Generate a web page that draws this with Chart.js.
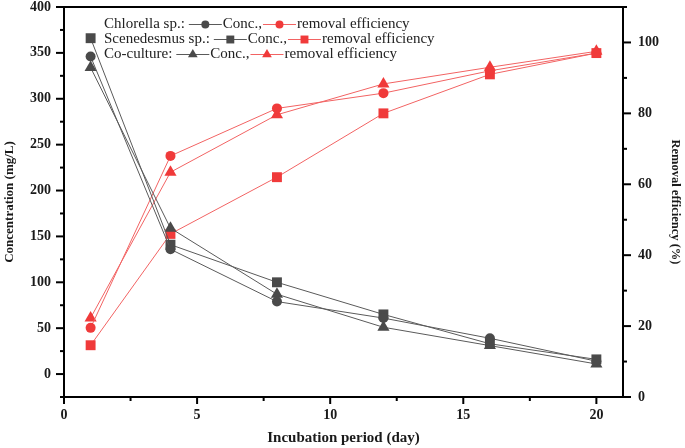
<!DOCTYPE html>
<html>
<head>
<meta charset="utf-8">
<script src="https://cdn.jsdelivr.net/npm/chart.js@4.4.0/dist/chart.umd.min.js"></script>
<style>
  html, body { margin: 0; padding: 0; background: #fff; }
  #wrap { width: 685px; height: 448px; position: relative; }
</style>
</head>
<body>
<div id="wrap"><canvas id="myChart"></canvas></div>
<script>
/* --- data --- */
const days = [1, 4, 8, 12, 16, 20];

const chlorellaConc = [346, 136, 79, 61, 39, 14];
const scenedesmusConc = [366, 141, 100, 65, 33, 16];
const coCultureConc = [334, 159, 87, 51, 31, 11];

const chlorellaEff = [19.5, 68, 81.4, 85.7, 92, 97];
const scenedesmusEff = [14.6, 46, 62, 80, 91, 97];
const coCultureEff = [22.3, 63.4, 79.6, 88.3, 93, 97.5];

const groupNames = ["Chlorella sp.:", "Scenedesmus sp.:", "Co-culture:"];
const concLabel = "Conc.,";
const effLabel = "removal efficiency";

const dayTicks = [0, 5, 10, 15, 20];
const concTicks = [0, 50, 100, 150, 200, 250, 300, 350, 400];
const effTicks = [0, 20, 40, 60, 80, 100];

/* --- styles --- */
const serif = '"Liberation Serif", "Times New Roman", serif';
const grayLine = "#5a5a5a";
const grayMark = "#4a4a4a";
const redLine = "#f26363";
const redMark = "#f03a3a";
const shapes = ["circle", "rect", "triangle"];
const radii = [5, 7, 7];

const toPoints = (arr) => arr.map((v, i) => ({ x: days[i], y: v }));

const concSets = [chlorellaConc, scenedesmusConc, coCultureConc];
const effSets = [chlorellaEff, scenedesmusEff, coCultureEff];

const datasets = [];
concSets.forEach((arr, i) => {
  datasets.push({
    label: groupNames[i] + " " + concLabel,
    data: toPoints(arr),
    yAxisID: "yConc",
    borderColor: grayLine,
    backgroundColor: grayMark,
    pointBackgroundColor: grayMark,
    pointBorderColor: grayMark,
    borderWidth: 1,
    pointStyle: shapes[i],
    pointRadius: radii[i],
    pointBorderWidth: 0,
    tension: 0,
  });
});
effSets.forEach((arr, i) => {
  datasets.push({
    label: groupNames[i] + " " + effLabel,
    data: toPoints(arr),
    yAxisID: "yEff",
    borderColor: redLine,
    backgroundColor: redMark,
    pointBackgroundColor: redMark,
    pointBorderColor: redMark,
    borderWidth: 1,
    pointStyle: shapes[i],
    pointRadius: radii[i],
    pointBorderWidth: 0,
    tension: 0,
  });
});

const setTicks = (values) => (scale) => {
  scale.ticks = values.map((v) => ({ value: v }));
};

const midpoints = (values) => values.slice(0, -1).map((v, i) => (v + values[i + 1]) / 2);

// frame + major/minor ticks drawn through the scales
const frameTicks = {
  id: "frameTicks",
  afterDraw(chart) {
    const { ctx, chartArea: a, scales } = chart;
    ctx.save();
    ctx.strokeStyle = "#000";
    ctx.lineWidth = 2;
    ctx.strokeRect(a.left, a.top, a.right - a.left, a.bottom - a.top);

    const drawX = (vals, len) => {
      vals.forEach((v) => {
        const px = scales.x.getPixelForValue(v);
        ctx.beginPath();
        ctx.moveTo(px, a.bottom);
        ctx.lineTo(px, a.bottom + len);
        ctx.stroke();
      });
    };
    const drawY = (scale, vals, len, side) => {
      vals.forEach((v) => {
        const py = scale.getPixelForValue(v);
        const x0 = side < 0 ? a.left : a.right;
        ctx.beginPath();
        ctx.moveTo(x0, py);
        ctx.lineTo(x0 + side * len, py);
        ctx.stroke();
      });
    };
    drawX(dayTicks, 7);
    drawX(midpoints(dayTicks), 4);
    drawY(scales.yConc, concTicks, 8, -1);
    drawY(scales.yConc, [-25].concat(midpoints(concTicks)), 4, -1);
    drawY(scales.yEff, effTicks, 8, 1);
    drawY(scales.yEff, midpoints(effTicks).concat([110]), 4, 1);
    ctx.restore();
  },
};

// legend laid out like the original figure
const groupLegend = {
  id: "groupLegend",
  afterDraw(chart) {
    const { ctx } = chart;
    const sets = chart.data.datasets;
    const rows = [24, 39, 54];
    const seg = 33;
    const sample = (ds, x, y, r) => {
      ctx.save();
      ctx.strokeStyle = ds.borderColor;
      ctx.lineWidth = 1.2;
      ctx.beginPath();
      ctx.moveTo(x, y + 0.5);
      ctx.lineTo(x + seg, y + 0.5);
      ctx.stroke();
      ctx.restore();
      ctx.save();
      ctx.fillStyle = ds.pointBackgroundColor;
      ctx.strokeStyle = ds.pointBorderColor;
      Chart.helpers.drawPoint(ctx, { pointStyle: ds.pointStyle, radius: r, rotation: 0, borderWidth: 0 }, x + seg / 2, y + 0.5);
      ctx.restore();
    };
    groupNames.forEach((name, i) => {
      const y = rows[i];
      let x = 104;
      ctx.save();
      ctx.font = "15px " + serif;
      ctx.textBaseline = "middle";
      ctx.textAlign = "left";
      ctx.fillStyle = "#222";
      ctx.fillText(name, x, y);
      x += ctx.measureText(name).width + 4;
      const w1 = ctx.measureText(concLabel).width;
      ctx.restore();
      sample(sets[i], x, y, sets[i].pointRadius * 0.8);
      x += seg + 1;
      ctx.save();
      ctx.font = "15px " + serif;
      ctx.textBaseline = "middle";
      ctx.fillStyle = "#222";
      ctx.fillText(concLabel, x, y);
      ctx.restore();
      x += w1 + 1;
      sample(sets[i + 3], x, y, sets[i + 3].pointRadius * 0.8);
      x += seg + 1;
      ctx.save();
      ctx.font = "15px " + serif;
      ctx.textBaseline = "middle";
      ctx.fillStyle = "#222";
      ctx.fillText(effLabel, x, y);
      ctx.restore();
    });
  },
};

const tickFont = { family: serif, size: 14, weight: "bold" };
const tickColor = "#1a1a1a";

const fitY = (w) => (s) => {
  s.width = w;
  s.paddingTop = 0;
  s.paddingBottom = 0;
};

const ctx = document.getElementById("myChart").getContext("2d");
const myChart = new Chart(ctx, {
  type: "line",
  data: { datasets: datasets },
  options: {
    responsive: true,
    maintainAspectRatio: false,
    animation: false,
    layout: { padding: { top: 7, left: 0, right: 0, bottom: 0 } },
    plugins: {
      legend: { display: false },
      tooltip: { enabled: false },
    },
    scales: {
      x: {
        type: "linear",
        min: 0,
        max: 21,
        afterBuildTicks: setTicks(dayTicks),
        afterFit: (s) => {
          s.height = 51;
          s.paddingLeft = 0;
          s.paddingRight = 0;
        },
        grid: { display: false, drawTicks: false },
        border: { display: false },
        ticks: { font: tickFont, color: tickColor, padding: 10, maxRotation: 0 },
        title: {
          display: true,
          text: "Incubation period (day)",
          font: { family: serif, size: 15, weight: "bold" },
          color: tickColor,
          padding: { top: 0, bottom: 1 },
        },
      },
      yConc: {
        type: "linear",
        position: "left",
        min: -25,
        max: 400,
        afterBuildTicks: setTicks(concTicks),
        afterFit: fitY(64),
        grid: { display: false, drawTicks: false },
        border: { display: false },
        ticks: { font: tickFont, color: tickColor, padding: 13 },
        title: {
          display: true,
          text: "Concentration (mg/L)",
          font: { family: serif, size: 13, weight: "bold" },
          color: tickColor,
          padding: { top: 2, bottom: 0 },
        },
      },
      yEff: {
        type: "linear",
        position: "right",
        min: 0,
        max: 110,
        afterBuildTicks: setTicks(effTicks),
        afterFit: fitY(62),
        grid: { display: false, drawTicks: false },
        border: { display: false },
        ticks: { font: tickFont, color: tickColor, padding: 15 },
        title: {
          display: true,
          text: "Removal efficiency (%)",
          font: { family: serif, size: 12.5, weight: "bold" },
          color: tickColor,
          padding: { top: 2, bottom: 0 },
        },
      },
    },
  },
  plugins: [frameTicks, groupLegend],
});
</script>
</body>
</html>
